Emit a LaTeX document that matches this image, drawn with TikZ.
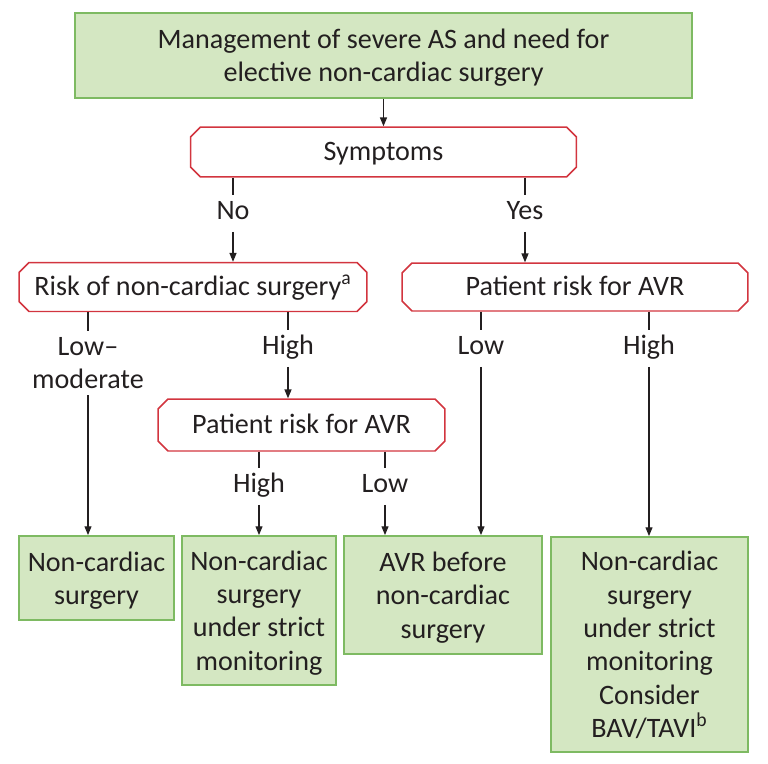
\documentclass[tikz,border=0pt]{standalone}
\usepackage{fontspec}
\setmainfont{Carlito}
\usetikzlibrary{arrows.meta,shapes.misc,positioning}
\definecolor{boxgreen}{HTML}{D4E7C2}
\definecolor{edgegreen}{HTML}{7EBA62}
\definecolor{edgered}{HTML}{D2353F}
\definecolor{ink}{HTML}{231F20}

\begin{document}
\begin{tikzpicture}[
    x=0.02cm, y=-0.02cm,
    font=\fontsize{16}{19}\selectfont, text=ink,
    outcome/.style={draw=edgegreen, fill=boxgreen, line width=1.1pt, align=center, inner sep=0pt, text depth=0pt},
    query/.style={chamfered rectangle, chamfered rectangle xsep=0.1cm, chamfered rectangle ysep=0.1cm, draw=edgered, line width=0.85pt,
        align=center, inner sep=0pt, text height=0.36cm, text depth=0.01cm},
    lbl/.style={inner xsep=1pt, inner ysep=0.12cm, text height=0.36cm, text depth=0.12cm},
    link/.style={draw=ink, line width=0.6pt},
    arr/.style={link, -{Triangle[length=5pt, width=4pt]}}
]
\useasboundingbox (0,0) rectangle (768,764);

% decision levels
\node[outcome, minimum width=12.34cm, minimum height=1.70cm] (mgmt) at (383.5,55.5) {Management of severe AS and need for\\elective non-cardiac surgery};
\node[query, minimum width=7.72cm, minimum height=1.00cm] (symp) at (383.5,152) {Symptoms};
\node[query, minimum width=6.96cm, minimum height=0.98cm] (risk) at (193,287) {Risk of non-cardiac surgery\textsuperscript{a}};
\node[query, minimum width=6.92cm, minimum height=0.96cm] (avrR) at (575,287) {Patient risk for AVR};
\node[query, minimum width=5.74cm, minimum height=1.04cm] (avrM) at (301.5,425) {Patient risk for AVR};

% outcomes
\node[outcome, minimum width=3.10cm, minimum height=1.68cm] (res1) at (96.5,578) {Non-cardiac\\surgery};
\node[outcome, minimum width=3.08cm, minimum height=2.98cm] (res2) at (259,610.5) {Non-cardiac\\surgery\\under strict\\monitoring};
\node[outcome, minimum width=3.96cm, minimum height=2.36cm] (res3) at (443,595) {AVR before\\non-cardiac\\surgery};
\node[outcome, minimum width=3.94cm, minimum height=4.30cm] (res4) at (649.5,644.5) {Non-cardiac\\surgery\\under strict\\monitoring\\Consider\\BAV/TAVI\textsuperscript{b}};

% branch labels
\node[lbl] (no) at (233,213.5) {No};
\node[lbl] (yes) at (525,213.5) {Yes};
\node[align=center, inner sep=0.12cm] (lowmod) at (88,363) {Low–\\moderate};
\node[lbl] (highA) at (288,348.5) {High};
\node[lbl] (lowR) at (481,348.5) {Low};
\node[lbl] (highR) at (649,348.5) {High};
\node[lbl] (highM) at (259,486.5) {High};
\node[lbl] (lowM) at (385,486.5) {Low};

% connectors
\draw[arr] (mgmt.south) -- (symp.north);
\draw[link] (symp.south -| no) -- (no);
\draw[arr] (no) -- (risk.north -| no);
\draw[link] (symp.south -| yes) -- (yes);
\draw[arr] (yes) -- (avrR.north -| yes);
\draw[link] (risk.south -| lowmod) -- (lowmod);
\draw[arr] (lowmod) -- (res1.north -| lowmod);
\draw[link] (risk.south -| highA) -- (highA);
\draw[arr] (highA) -- (avrM.north -| highA);
\draw[link] (avrM.south -| highM) -- (highM);
\draw[arr] (highM) -- (res2.north -| highM);
\draw[link] (avrM.south -| lowM) -- (lowM);
\draw[arr] (lowM) -- (res3.north -| lowM);
\draw[link] (avrR.south -| lowR) -- (lowR);
\draw[arr] (lowR) -- (res3.north -| lowR);
\draw[link] (avrR.south -| highR) -- (highR);
\draw[arr] (highR) -- (res4.north -| highR);
\end{tikzpicture}
\end{document}
